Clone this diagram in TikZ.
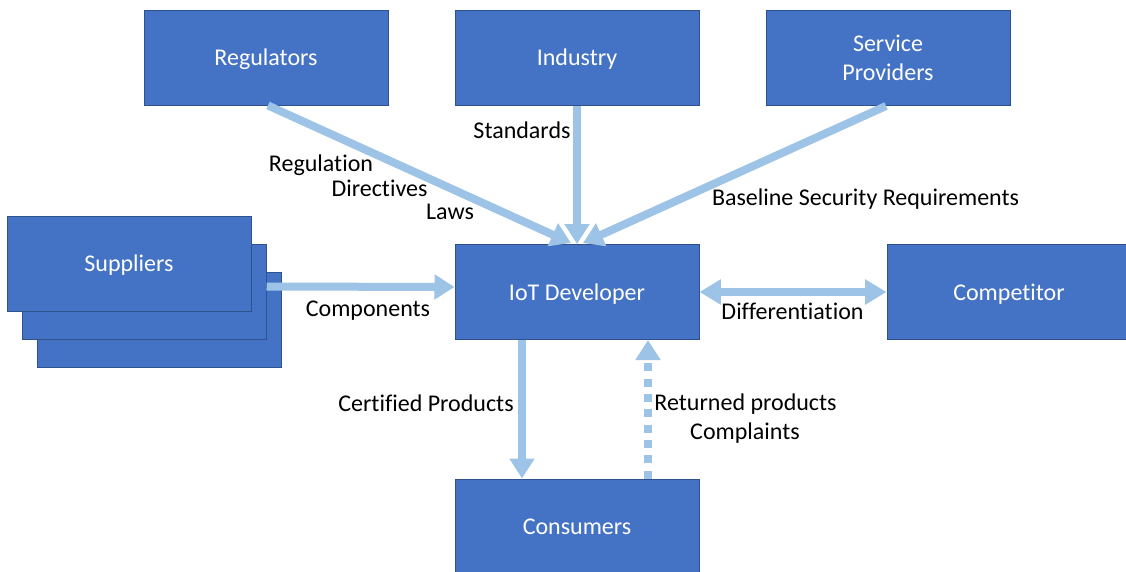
\documentclass[tikz,border=0pt]{standalone}
\usepackage{fontspec}
\setmainfont{Carlito}[Ligatures=NoCommon]
\usetikzlibrary{calc,arrows.meta}

\definecolor{boxfill}{HTML}{4472C4}
\definecolor{boxline}{HTML}{2F528F}
\definecolor{flowblue}{HTML}{9DC3E6}
\newcommand{\diagfont}{\fontsize{18}{22}\selectfont}

\begin{document}
\begin{tikzpicture}[x=0.75pt, y=-0.75pt,
	actor/.style={draw=boxline, line width=0.75pt, fill=boxfill, text=white, font=\diagfont,
		minimum width=183pt, minimum height=71.25pt, inner sep=0pt, align=center},
	oneline/.style={text height=12.3pt, text depth=0pt},
	flow/.style={draw=flowblue, line width=6pt, -{Triangle[width=18pt,length=15pt]}},
	lbl/.style={font=\diagfont, inner sep=0pt}]

	\useasboundingbox (0,0) rectangle (1126,571);

	%top row
	\node[actor, oneline] (reg) at (266,57.5) {Regulators};
	\node[actor, oneline] (ind) at (577,57.5) {Industry};
	\node[actor] (sp) at (888,58) {Service\\Providers};

	%middle row
	\node[actor] (sup3) at (159,319.5) {};
	\node[actor] (sup2) at (144,291.5) {};
	\node[actor, oneline] (sup1) at (129,263.5) {Suppliers};
	\node[actor, oneline] (iot) at (577,292) {IoT Developer};
	\node[actor, oneline] (comp) at (1009,292) {Competitor};

	%bottom
	\node[actor, oneline] (con) at (577,526.5) {Consumers};

	%flows into the developer
	\draw[flow] ($(reg.south)+(2,0)$) -- ($(iot.north)+(-6,-1)$);
	\draw[flow] (ind.south) -- (iot.north);
	\draw[flow] ($(sp.south)+(-2,0)$) -- ($(iot.north)+(6,-1)$);
	\draw[flow] ($(sup2.east)+(0,-5)$) -- ($(iot.west)+(0,-5)$);
	\draw[flow, line width=5.5pt, {Triangle[width=18pt,length=16pt]}-{Triangle[width=18pt,length=16pt]}] (iot.east) -- (comp.west);

	%products and returns
	\draw[flow] ($(iot.south)+(-55,0)$) -- ($(con.north)+(-55,0)$);
	\draw[flow, dash pattern=on 6pt off 5.5pt] ($(con.north)+(71,0)$) -- ($(iot.south)+(71,0)$);

	%labels
	\node[lbl] (lreg1) at (321,165) {Regulation};
	\node[lbl] (lreg2) at (379.5,188) {Directives};
	\node[lbl] (lreg3) at (450,212) {Laws};
	\node[lbl] (lind) at (522,130) {Standards};
	\node[lbl] (lsp) at (865.5,199) {Baseline Security Requirements};
	\node[lbl] (lsup) at (368,311) {Components};
	\node[lbl] (lcomp) at (792.5,311) {Differentiation};
	\node[lbl] (lcon1) at (426,403) {Certified Products};
	\node[lbl] (lcon2) at (745.5,404) {Returned products};
	\node[lbl] (lcon3) at (745,433) {Complaints};

\end{tikzpicture}
\end{document}
